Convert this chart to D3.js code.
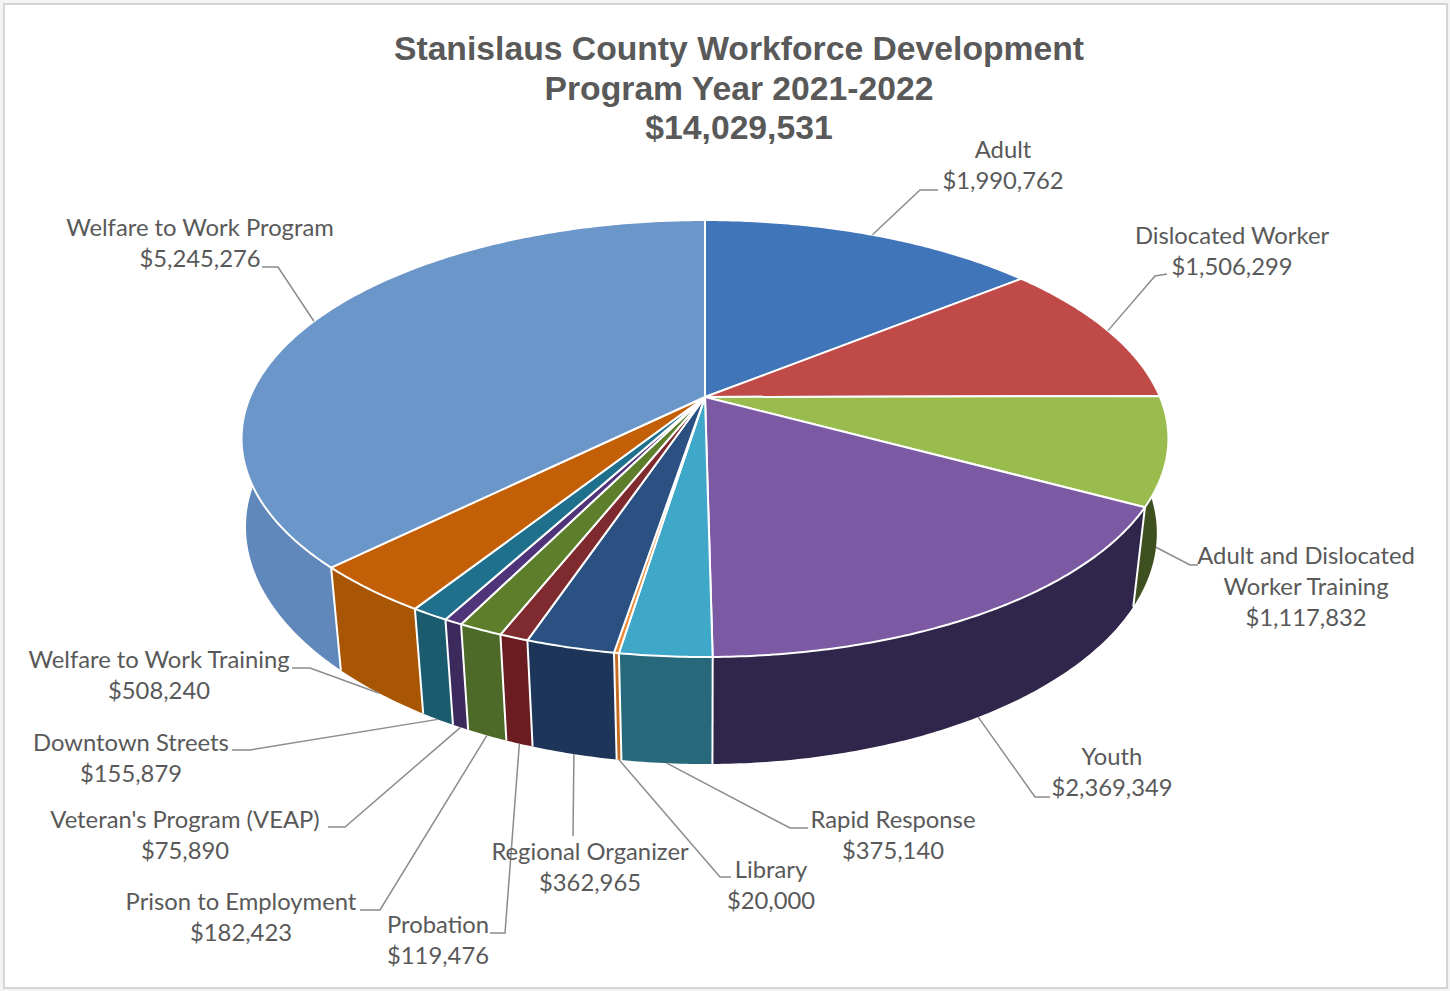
<!DOCTYPE html>
<html>
<head>
<meta charset="utf-8">
<title>Stanislaus County Workforce Development</title>
<script src="https://cdn.jsdelivr.net/npm/d3@7/dist/d3.min.js"></script>
<style>
  html, body { margin: 0; padding: 0; background: #f4f4f4; overflow: hidden; }
  svg { display: block; }
</style>
</head>
<body>
<svg id="chart" width="1450" height="991"></svg>
<script>
// Program funding, clockwise from twelve o'clock
const programs = ["Adult", "Dislocated Worker", "Adult and Dislocated|Worker Training", "Youth",
  "Rapid Response", "Library", "Regional Organizer", "Probation", "Prison to Employment",
  "Veteran's Program (VEAP)", "Downtown Streets", "Welfare to Work Training", "Welfare to Work Program"];
const amounts = [1990762, 1506299, 1117832, 2369349, 375140, 20000, 362965, 119476, 182423,
  75890, 155879, 508240, 5245276];
const titleLines = ["Stanislaus County Workforce Development", "Program Year 2021-2022", "$14,029,531"];

const topColors = ["#4175ba", "#c04a48", "#9abc4e", "#7b5aa3", "#3fa8c8", "#ef8a34", "#2b5183",
  "#7f2a2e", "#5d7f2c", "#4f3479", "#1f708c", "#c25f07", "#6b96c9"];
const sideColors = ["#2f568a", "#8e3634", "#3e5020", "#30254a", "#27697a", "#c46a20", "#1d3558",
  "#6a1c20", "#4e6a28", "#3c2a5c", "#1b5b6e", "#a85604", "#6188bb"];

// Label placement: centre x, first-line centre y, then the leader's elbow and end
const labelCentres = [[1003, 150], [1232, 236], [1306, 556], [1112, 757], [893, 820], [771, 870],
  [590, 852], [438, 925], [241, 902], [185, 820], [131, 743], [159, 660], [200, 228]];
const leaderBends = [
  [[920, 190], [938, 190]], [[1155, 276], [1167, 274]], [[1190, 565], [1198, 565]],
  [[1035, 797], [1050, 797]], [[790, 828], [808, 828]], [[720, 877], [731, 877]],
  [[573, 836]], [[505, 933], [490, 933]], [[380, 910], [360, 910]],
  [[345, 827], [328, 827]], [[250, 750], [232, 750]], [[310, 668], [292, 668]], [[278, 267], [262, 267]]];
// Which leaders start on the upper rim rather than the lower one
const leaderFromTop = [true, true, false, false, false, false, false, false, false, false, false, false, true];

// Perspective view of the disc. u runs right, v runs away from the viewer.
const view = { cx: 705, cy: 397, a: 455, b: 210.6, k: 0.19, drop: 95.8, lowerScale: 0.0248, leftBulge: 12 };

function project(theta, level) {
  const u = Math.sin(theta), v = Math.cos(theta);
  const den = 1 + view.k * v + view.lowerScale * level;
  // The lower rim swells slightly outward on the far-left quarter of the drum
  const swell = level * view.leftBulge * Math.max(0, -u) * Math.max(0, v + 0.78);
  return [view.cx + view.a * u / den - swell,
          view.cy - (view.b * v - view.drop * level) / den];
}

const svg = d3.select("#chart");
svg.append("rect").attr("x", 4).attr("y", 4).attr("width", 1443).attr("height", 984)
  .attr("fill", "#fff").attr("stroke", "#cdcdcd").attr("stroke-width", 1.6);

const arcs = d3.pie().sort(null).startAngle(0).endAngle(2 * Math.PI)(amounts);
const line = d3.line();

function rimAngles(d) {
  const n = Math.max(2, Math.ceil((d.endAngle - d.startAngle) / 0.01));
  return d3.range(n + 1).map(i => d.startAngle + (d.endAngle - d.startAngle) * i / n);
}

// Outer walls first, furthest slices first, so nearer ones overlap them
const wallOrder = d3.range(arcs.length).sort((p, q) =>
  Math.cos((arcs[q].startAngle + arcs[q].endAngle) / 2) - Math.cos((arcs[p].startAngle + arcs[p].endAngle) / 2));

const walls = svg.append("g");
wallOrder.forEach(i => {
  const angles = rimAngles(arcs[i]);
  const outline = angles.map(t => project(t, 0)).concat(angles.slice().reverse().map(t => project(t, 1)));
  walls.append("path").attr("d", line(outline) + "Z").attr("fill", sideColors[i]);
});
// White seams where neighbouring walls meet
arcs.forEach(d => {
  walls.append("path").attr("d", line([project(d.startAngle, 0), project(d.startAngle, 1)]))
    .attr("stroke", "#fff").attr("stroke-width", 2).attr("fill", "none");
});

// Upper faces
const faces = svg.append("g");
arcs.forEach((d, i) => {
  const outline = [[view.cx, view.cy]].concat(rimAngles(d).map(t => project(t, 0)));
  faces.append("path").attr("d", line(outline) + "Z")
    .attr("fill", topColors[i]).attr("stroke", "#fff").attr("stroke-width", 2)
    .attr("stroke-linejoin", "round");
});

// Leader lines
const leaders = svg.append("g").attr("fill", "none").attr("stroke", "#8c8c8c").attr("stroke-width", 1.5);
arcs.forEach((d, i) => {
  const mid = (d.startAngle + d.endAngle) / 2;
  const start = project(mid, leaderFromTop[i] ? 0 : 1);
  leaders.append("path").attr("d", line([start, ...leaderBends[i]]));
});

// Data labels
const money = d3.format("$,");
const labels = svg.append("g").attr("font-family", "Lato, 'Open Sans', sans-serif")
  .attr("font-size", 23.8).attr("fill", "#595959").attr("text-anchor", "middle");
programs.forEach((name, i) => {
  const rows = name.split("|").concat(money(amounts[i]));
  rows.forEach((row, r) => {
    labels.append("text").attr("x", labelCentres[i][0]).attr("y", labelCentres[i][1] + r * 31 + 8).text(row);
  });
});

// Title
const title = svg.append("g").attr("font-family", "'Liberation Sans', Arial, sans-serif")
  .attr("font-weight", "bold").attr("font-size", 33.7).attr("fill", "#595959").attr("text-anchor", "middle");
titleLines.forEach((row, r) => {
  title.append("text").attr("x", 739).attr("y", 60 + r * 39.5).text(row);
});
</script>
</body>
</html>
